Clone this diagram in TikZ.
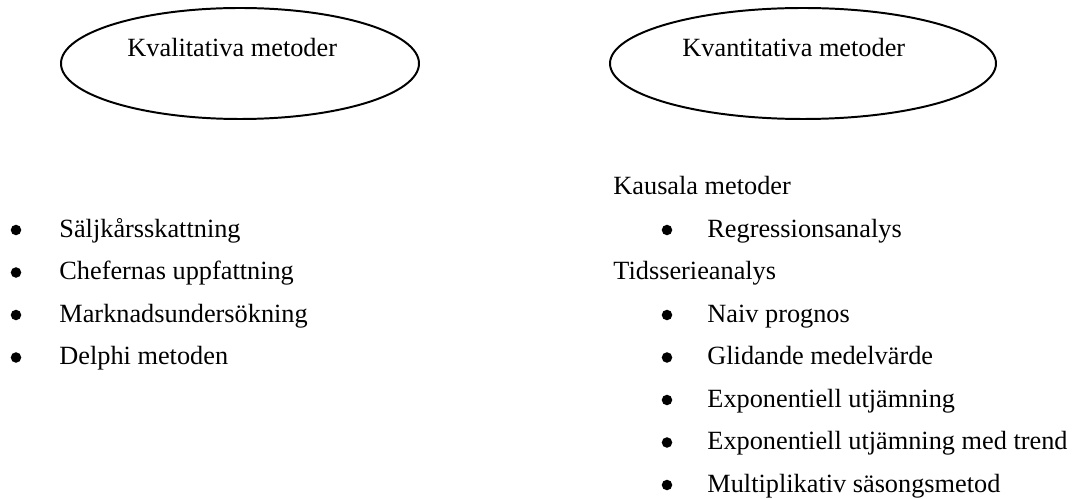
\documentclass[tikz,border=0pt]{standalone}
\usepackage{fontspec}
\setmainfont{Liberation Serif}
\usetikzlibrary{shapes.geometric}
\begin{document}
\begin{tikzpicture}[x=0.4563pt,y=-0.4563pt,
  oval/.style={draw,ellipse,line width=0.9pt,inner sep=0pt},
  txt/.style={anchor=base west,inner sep=0pt,font=\fontsize{12pt}{14pt}\selectfont},
  dot/.style={circle,fill=black,inner sep=0pt,minimum size=4.8pt}]
\useasboundingbox (0,0) rectangle (1077,499);
% ellipses
\node[oval,minimum width=358*0.4563pt,minimum height=111*0.4563pt] (kval) at (240,63.5) {};
\node[oval,minimum width=386*0.4563pt,minimum height=111*0.4563pt] (kvan) at (803,63.5) {};
\node[txt] (kvalt) at (127,57) {Kvalitativa metoder};
\node[txt] (kvant) at (682,57) {Kvantitativa metoder};
% left list
\node[dot] (b1) at (16,230) {};
\node[txt] (l1) at (59,237.5) {Säljkårsskattning};
\node[dot] (b2) at (16,272.5) {};
\node[txt] (l2) at (59,280) {Chefernas uppfattning};
\node[dot] (b3) at (16,315) {};
\node[txt] (l3) at (59,322.5) {Marknadsundersökning};
\node[dot] (b4) at (16,357.5) {};
\node[txt] (l4) at (59,365) {Delphi metoden};
% right list
\node[txt] (h1) at (613,195) {Kausala metoder};
\node[dot] (r1b) at (667,230) {};
\node[txt] (r1) at (707,237.5) {Regressionsanalys};
\node[txt] (h2) at (613,280) {Tidsserieanalys};
\node[dot] (r2b) at (667,315) {};
\node[txt] (r2) at (707,322.5) {Naiv prognos};
\node[dot] (r3b) at (667,357.5) {};
\node[txt] (r3) at (707,365) {Glidande medelvärde};
\node[dot] (r4b) at (667,400) {};
\node[txt] (r4) at (707,407.5) {Exponentiell utjämning};
\node[dot] (r5b) at (667,442.5) {};
\node[txt] (r5) at (707,450) {Exponentiell utjämning med trend};
\node[dot] (r6b) at (667,485) {};
\node[txt] (r6) at (707,492.5) {Multiplikativ säsongsmetod};
\end{tikzpicture}
\end{document}
